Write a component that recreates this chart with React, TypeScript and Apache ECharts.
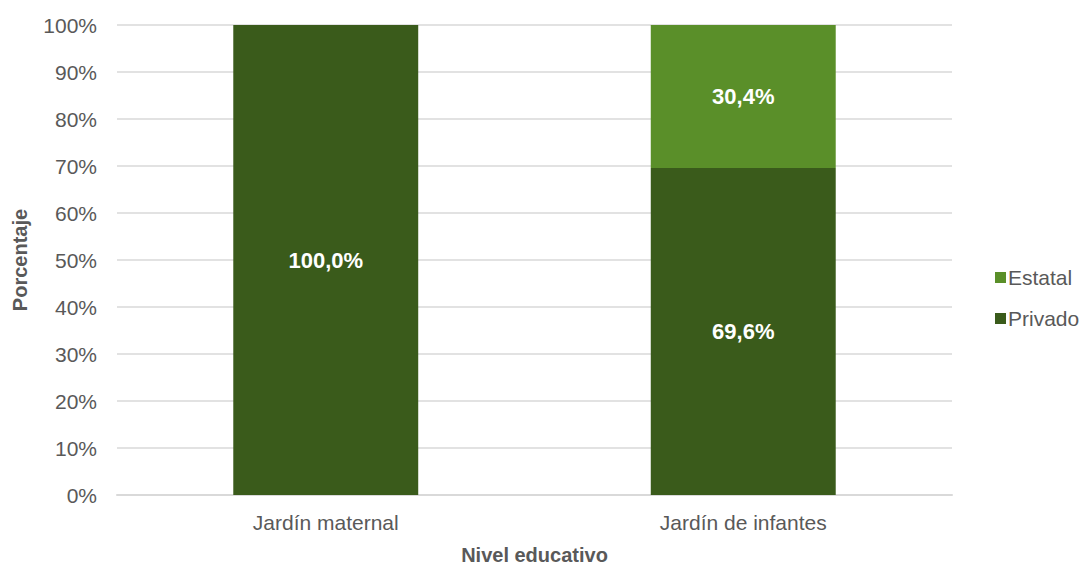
import React, { useEffect, useRef } from "react";
import * as echarts from "echarts";

const categories = ["Jardín maternal", "Jardín de infantes"];
const privado = [100.0, 69.6];
const estatal = [null, 30.4];
const yTicks = [0, 10, 20, 30, 40, 50, 60, 70, 80, 90, 100];

const FONT = "'Liberation Sans', Arial, Helvetica, sans-serif";

export default function App() {
  const ref = useRef<HTMLDivElement>(null);
  useEffect(() => {
    const chart = echarts.init(ref.current!, null, { renderer: "svg", width: 1084, height: 566 });
    const fmt = (p: any) =>
      p.value == null ? "" : p.value.toFixed(1).replace(".", ",") + "%";
    chart.setOption({
      animation: false,
      textStyle: { fontFamily: FONT },
      grid: { left: 117, width: 835, top: 25, height: 470, containLabel: false, outerBoundsMode: "none" },
      legend: {
        orient: "vertical",
        left: 990,
        top: 262,
        itemWidth: 11,
        itemHeight: 11,
        itemGap: 20,
        icon: "rect",
        data: ["Estatal", "Privado"],
        textStyle: { fontSize: 21, color: "#595959", fontFamily: FONT, padding: [0, 0, 0, -3] },
      },
      xAxis: {
        type: "category",
        data: categories,
        name: "Nivel educativo",
        nameLocation: "middle",
        nameGap: 50,
        nameTextStyle: { fontSize: 20, fontWeight: "bold", color: "#595959", fontFamily: FONT },
        axisLine: { lineStyle: { color: "#d9d9d9", width: 2 } },
        axisTick: { show: false },
        axisLabel: { fontSize: 21, color: "#595959", margin: 17, fontFamily: FONT },
      },
      yAxis: {
        type: "value",
        min: yTicks[0],
        max: yTicks[yTicks.length - 1],
        interval: 10,
        name: "Porcentaje",
        nameLocation: "middle",
        nameGap: 87,
        nameTextStyle: { fontSize: 20, fontWeight: "bold", color: "#595959", fontFamily: FONT },
        axisLabel: { formatter: "{value}%", fontSize: 21, color: "#595959", margin: 20, fontFamily: FONT },
        splitLine: { lineStyle: { color: "#d9d9d9", width: 1.5 } },
        axisLine: { show: false },
        axisTick: { show: false },
      },
      series: [
        {
          name: "Privado",
          type: "bar",
          stack: "total",
          data: privado,
          barWidth: "44.3%",
          itemStyle: { color: "#3a5b1b" },
          label: { show: true, position: "inside", formatter: fmt, color: "#fff", fontSize: 22, fontWeight: "bold", fontFamily: FONT },
        },
        {
          name: "Estatal",
          type: "bar",
          stack: "total",
          data: estatal,
          barWidth: "44.3%",
          itemStyle: { color: "#5a8f29" },
          label: { show: true, position: "inside", formatter: fmt, color: "#fff", fontSize: 22, fontWeight: "bold", fontFamily: FONT },
        },
      ],
    });
    return () => chart.dispose();
  }, []);
  return <div ref={ref} style={{ width: 1084, height: 566, position: "absolute", left: 0, top: 0 }} />;
}
